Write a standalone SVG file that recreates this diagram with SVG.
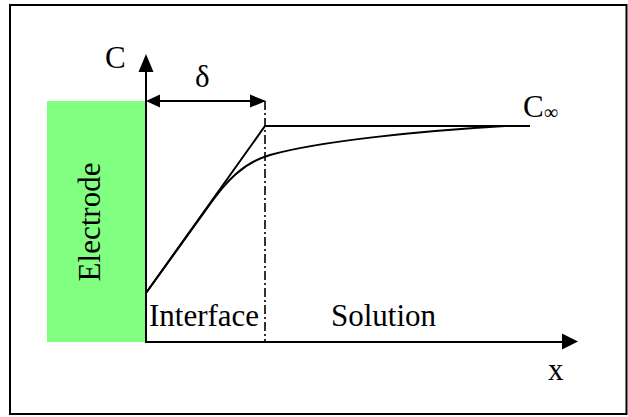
<svg xmlns="http://www.w3.org/2000/svg" width="628" height="417" viewBox="0 0 628 417">
<style>
  .lbl { font-family: "Times New Roman", "Liberation Serif", "DejaVu Serif", serif; font-size: 31px; fill: #000; }
  .ln { fill: none; stroke: #000; stroke-width: 2; }
  .ah { fill: #000; stroke: none; }
</style>
<rect x="10" y="5" width="616.5" height="409" fill="#fff" stroke="#000" stroke-width="2"/>
<g id="electrode">
  <rect x="47" y="101" width="99" height="241" fill="#80ff80"/>
  <text class="lbl" transform="translate(100,222) rotate(-90)" text-anchor="middle">Electrode</text>
</g>
<g id="connectors">
  <line class="ln" x1="146" y1="70" x2="146" y2="343"/>
  <polygon class="ah" points="146,54 138.5,72 153.5,72"/>
  <line class="ln" x1="145" y1="342" x2="564" y2="342"/>
  <polygon class="ah" points="578,341.5 562,333.5 562,349.5"/>
  <line class="ln" x1="158" y1="101" x2="252" y2="101"/>
  <polygon class="ah" points="146,101 160,94.5 160,107.5"/>
  <polygon class="ah" points="266,101 250,94.5 250,107.5"/>
  <line x1="265" y1="101" x2="265" y2="342" stroke="#000" stroke-width="1.6" stroke-dasharray="9,3,2,3"/>
  <polyline class="ln" points="146,293 265,126 530,126"/>
  <path class="ln" d="M146,293 L208,207 C226,181 243,163 270,155 C320,141 420,131 505,126"/>
</g>
<g id="labels">
  <text class="lbl" x="105" y="68">C</text>
  <text class="lbl" x="195" y="87">δ</text>
  <text class="lbl" x="523" y="117">C<tspan font-size="20" dy="2">∞</tspan></text>
  <text class="lbl" x="149" y="326">Interface</text>
  <text class="lbl" x="331" y="326">Solution</text>
  <text class="lbl" x="548" y="380">x</text>
</g>
</svg>
